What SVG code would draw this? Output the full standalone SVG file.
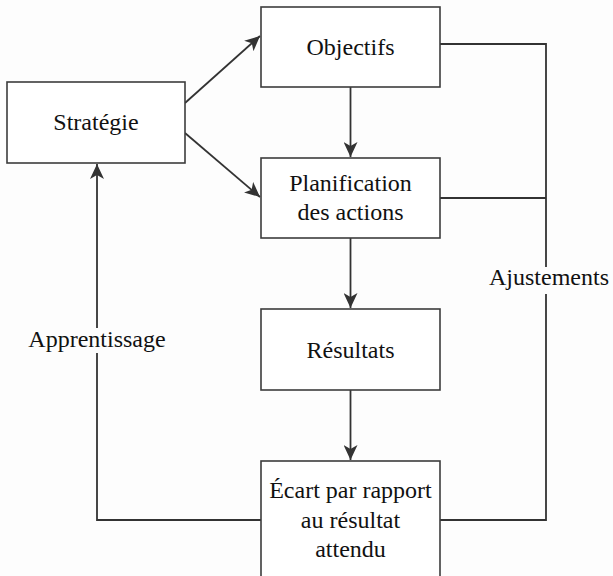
<svg xmlns="http://www.w3.org/2000/svg" width="613" height="576" viewBox="0 0 613 576">
<defs>
<style>
.box{fill:#fff;stroke:#3c3c3c;stroke-width:1.6}
.ln{fill:none;stroke:#333;stroke-width:1.8}
</style>
<marker id="ah" markerUnits="userSpaceOnUse" markerWidth="16" markerHeight="14" viewBox="0 0 16 14" refX="15" refY="7" orient="auto">
<path d="M0,0 L15,7 L0,14 L4,7 Z" fill="#333"/>
</marker>
</defs>
<rect width="613" height="576" fill="#fdfdfd"/>
<g id="connectors">
<line class="ln" x1="185" y1="103" x2="260" y2="36" marker-end="url(#ah)"/>
<line class="ln" x1="185" y1="133" x2="260" y2="197" marker-end="url(#ah)"/>
<line class="ln" x1="350.5" y1="87" x2="350.5" y2="157" marker-end="url(#ah)"/>
<line class="ln" x1="350.5" y1="238" x2="350.5" y2="308" marker-end="url(#ah)"/>
<line class="ln" x1="350.5" y1="390" x2="350.5" y2="460" marker-end="url(#ah)"/>
<polyline class="ln" points="440,44 546,44 546,267"/>
<line class="ln" x1="440" y1="198" x2="546" y2="198"/>
<polyline class="ln" points="546,294 546,520 440,520"/>
<polyline class="ln" points="261,520 97,520 97,353"/>
<line class="ln" x1="97" y1="328" x2="97" y2="164" marker-end="url(#ah)"/>
<text x="97" y="347" font-family="Times New Roman, Liberation Serif, serif" font-size="24" fill="#111" text-anchor="middle">Apprentissage</text>
<text x="549" y="285" font-family="Times New Roman, Liberation Serif, serif" font-size="24" fill="#111" text-anchor="middle">Ajustements</text>
</g>
<g id="strategie" font-family="Times New Roman, Liberation Serif, serif" font-size="24" fill="#111" text-anchor="middle">
<rect class="box" x="7" y="82" width="178" height="81"/>
<text x="96" y="130">Stratégie</text>
</g>
<g id="objectifs" font-family="Times New Roman, Liberation Serif, serif" font-size="24" fill="#111" text-anchor="middle">
<rect class="box" x="261" y="7" width="179" height="80"/>
<text x="350.5" y="55">Objectifs</text>
</g>
<g id="planification" font-family="Times New Roman, Liberation Serif, serif" font-size="24" fill="#111" text-anchor="middle">
<rect class="box" x="261" y="158" width="179" height="80"/>
<text x="350.5" y="191">Planification</text>
<text x="350.5" y="220">des actions</text>
</g>
<g id="resultats" font-family="Times New Roman, Liberation Serif, serif" font-size="24" fill="#111" text-anchor="middle">
<rect class="box" x="261" y="309" width="179" height="81"/>
<text x="350.5" y="358">Résultats</text>
</g>
<g id="ecart" font-family="Times New Roman, Liberation Serif, serif" font-size="24" fill="#111" text-anchor="middle">
<rect class="box" x="261" y="461" width="179" height="130"/>
<text x="350.5" y="498">Écart par rapport</text>
<text x="350.5" y="528">au résultat</text>
<text x="350.5" y="557">attendu</text>
</g>
</svg>
